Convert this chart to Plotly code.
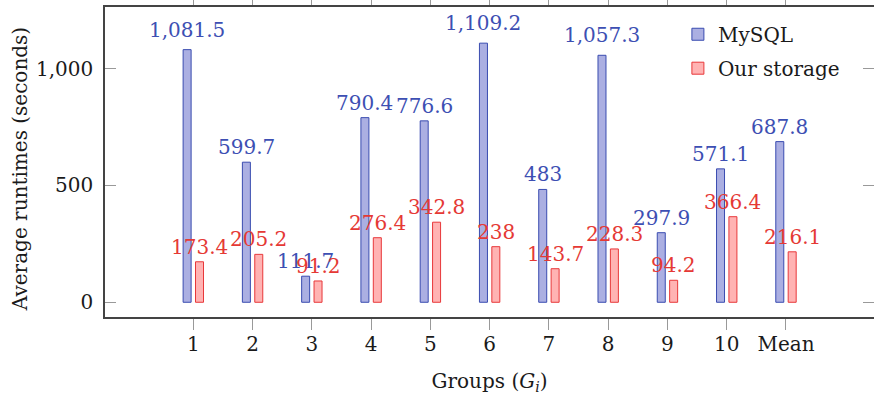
import plotly.graph_objects as go

categories = ["1", "2", "3", "4", "5", "6", "7", "8", "9", "10", "Mean"]
mysql = [1081.5, 599.7, 111.7, 790.4, 776.6, 1109.2, 483, 1057.3, 297.9, 571.1, 687.8]
ours = [173.4, 205.2, 91.2, 276.4, 342.8, 238, 143.7, 228.3, 94.2, 366.4, 216.1]
y_ticks = [0, 500, 1000]

FONT = "DejaVu Serif"
FS = 20
TEXT = "#1a1a1a"
BLUE_FILL = "#abafe2"
BLUE_LINE = "#3a4cb0"
BLUE_TEXT = "#3d4fb3"
RED_FILL = "#ffb3b3"
RED_LINE = "#e8383a"
RED_TEXT = "#e53935"
BAR_W = 0.135
OFF_B = -0.172
OFF_R = 0.037
YR = [-63, 1264]

fig = go.Figure()
fig.add_trace(go.Bar(x=categories, y=mysql, name="MySQL", width=BAR_W, offset=OFF_B,
                     legend="legend",
                     marker=dict(color=BLUE_FILL, line=dict(color=BLUE_LINE, width=1))))
fig.add_trace(go.Bar(x=categories, y=ours, name="Our storage", width=BAR_W, offset=OFF_R,
                     legend="legend2",
                     marker=dict(color=RED_FILL, line=dict(color=RED_LINE, width=1))))
# invisible trace to carry the right-hand tick axis
fig.add_trace(go.Scatter(x=categories, y=mysql, yaxis="y2", mode="markers",
                         marker=dict(opacity=0), showlegend=False, hoverinfo="skip"))

def fmt(v):
    return f"{v:,}"

annotations = []
for i, (a, b) in enumerate(zip(mysql, ours)):
    for v, off, col in ((a, OFF_B, BLUE_TEXT), (b, OFF_R, RED_TEXT)):
        t = fmt(v)
        annotations.append(dict(
            x=i + off + BAR_W / 2, y=v, xref="x", yref="y", text=t, showarrow=False,
            yanchor="middle", yshift=15 + (5 if "," in t else 0),
            font=dict(family=FONT, size=FS, color=col)))

annotations.append(dict(
    text="Average runtimes (seconds)", xref="paper", yref="paper",
    x=-0.1105, y=0.477, xanchor="center", yanchor="middle", textangle=-90,
    showarrow=False, font=dict(family=FONT, size=FS, color=TEXT)))

legend_style = dict(xanchor="left", yanchor="top", bgcolor="rgba(0,0,0,0)",
                    font=dict(family=FONT, size=FS, color=TEXT))

fig.update_layout(
    width=874, height=396,
    margin=dict(l=105, r=0, t=7, b=79, autoexpand=False),
    plot_bgcolor="white", paper_bgcolor="white",
    barmode="overlay",
    font=dict(family=FONT, size=FS, color=TEXT),
    showlegend=True,
    legend=dict(x=0.745, y=0.975, **legend_style),
    legend2=dict(x=0.745, y=0.8655, **legend_style),
    annotations=annotations,
    xaxis=dict(
        type="category", range=[-1.49, 11.485], automargin=False,
        showline=True, linecolor="#444", linewidth=1.5, mirror="ticks",
        ticks="outside", ticklen=11, tickcolor="#999", tickwidth=1,
        ticklabelstandoff=-3,
        showgrid=False, zeroline=False,
        title=dict(text="Groups (<i>G</i><sub><i>i</i></sub>)", standoff=19,
                   font=dict(family=FONT, size=FS)),
    ),
    yaxis=dict(
        range=YR, tickvals=y_ticks, tickformat=",", automargin=False,
        showline=True, linecolor="#444", linewidth=1.5,
        ticks="inside", ticklen=11, tickcolor="#999", tickwidth=1,
        ticklabelstandoff=6,
        showgrid=False, zeroline=False,
    ),
    yaxis2=dict(
        overlaying="y", side="right", range=YR, tickvals=y_ticks, automargin=False,
        showticklabels=False, showline=False, showgrid=False, zeroline=False,
        ticks="inside", ticklen=11, tickcolor="#999", tickwidth=1,
    ),
)

fig.write_html("out.html")
